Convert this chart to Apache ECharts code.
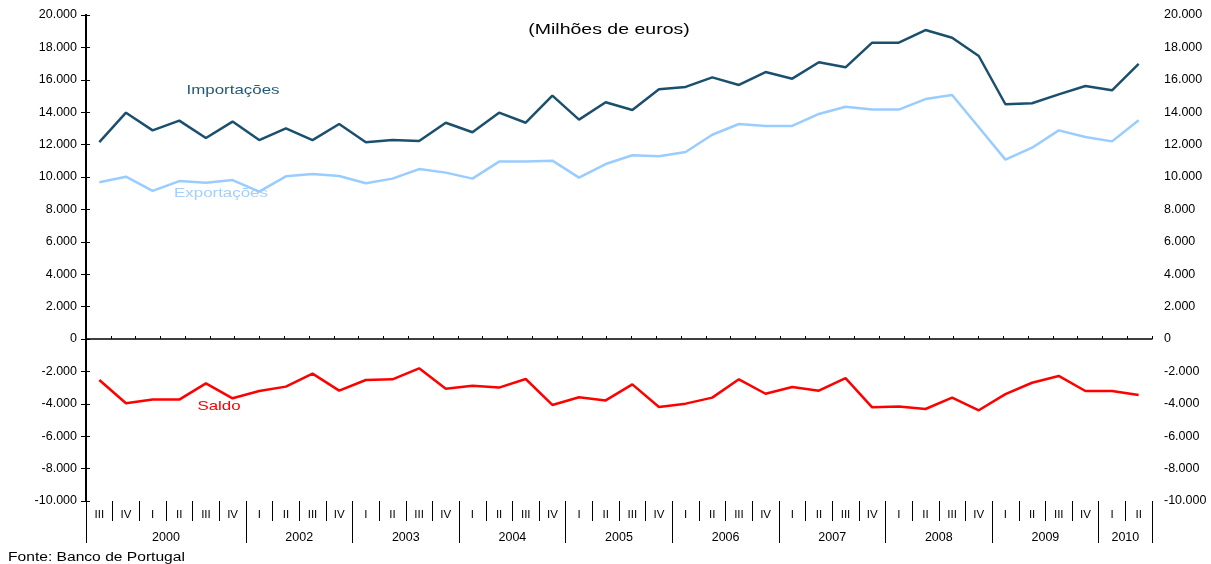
<!DOCTYPE html>
<html><head><meta charset="utf-8">
<script src="https://cdn.jsdelivr.net/npm/echarts@6/dist/echarts.min.js"></script>
<style>html,body{margin:0;padding:0;background:#fff}#c{width:1211px;height:564px}</style>
</head><body><div id="c"></div>
<script>
const quarters = ['III','IV','I','II','III','IV',
  'I','II','III','IV','I','II','III','IV','I','II','III','IV','I','II','III','IV',
  'I','II','III','IV','I','II','III','IV','I','II','III','IV','I','II','III','IV',
  'I','II'];
const years = ['2000','2002','2003','2004','2005','2006','2007','2008','2009','2010'];
const yearSpans = [6,4,4,4,4,4,4,4,4,2];
const importacoes = [12150,13970,12880,13480,12410,13420,12280,13000,12280,13270,12140,12280,12220,13350,12760,13970,13350,15020,13540,14610,14140,15410,15560,16150,15680,16480,16070,17080,16770,18290,18290,19070,18600,17470,14490,14550,15100,15620,15350,16980];
const exportacoes = [9670,10020,9140,9750,9650,9810,9100,10040,10190,10060,9610,9900,10490,10270,9900,10950,10950,11010,9960,10800,11340,11280,11540,12610,13270,13150,13150,13890,14340,14160,14160,14810,15060,13070,11070,11810,12880,12470,12200,13500];
const saldo = [-2530,-3970,-3740,-3740,-2740,-3660,-3210,-2940,-2140,-3190,-2530,-2490,-1810,-3070,-2880,-3000,-2470,-4070,-3600,-3790,-2800,-4200,-3990,-3620,-2490,-3380,-2960,-3190,-2410,-4220,-4160,-4320,-3620,-4400,-3400,-2700,-2280,-3210,-3210,-3460];
const yMin = -10000, yMax = 20000, yStep = 2000;

const FONT = 'Liberation Sans, Arial, sans-serif';
const bounds = [0]; const mids = [];
yearSpans.forEach(s => { const b = bounds[bounds.length-1]; mids.push(b + s/2); bounds.push(b + s); });
function fmt(v){ if (v === 0) return '0'; const a = Math.abs(v); const s = v<0?'-':''; const th = Math.floor(a/1000); const r = String(a%1000).padStart(3,'0'); return s + th + '.' + r; }

const chart = echarts.init(document.getElementById('c'), null, {renderer:'canvas'});
const yAxisBase = {
  type:'value', min:yMin, max:yMax, interval:yStep,
  axisLine:{show:true, lineStyle:{color:'#000', width:2}},
  axisTick:{show:true, length:5, lineStyle:{color:'#000'}},
  splitLine:{show:false},
  axisLabel:{formatter:fmt, color:'#000', fontSize:12.5, fontFamily:FONT}
};
chart.setOption({
  animation:false,
  backgroundColor:'#fff',
  grid:{left:86, right:59, top:15, bottom:63},
  xAxis:[
    {type:'category', data:quarters, position:'bottom', boundaryGap:true,
     axisLine:{show:false, onZero:false},
     axisTick:{show:true, interval:0, length:20, lineStyle:{color:'#000'}},
     axisLabel:{interval:0, margin:8, color:'#000', fontSize:11.5, fontFamily:FONT},
     splitLine:{show:false}},
    {type:'value', min:0, max:quarters.length, position:'bottom',
     axisLine:{show:false, onZero:false},
     axisTick:{show:true, customValues:bounds, length:42, lineStyle:{color:'#000'}},
     axisLabel:{customValues:mids, margin:30, color:'#000', fontSize:12.5, fontFamily:FONT,
       formatter:(v)=>{ const i = mids.indexOf(v); return i>=0 ? years[i] : ''; }},
     splitLine:{show:false}},
    {type:'value', min:0, max:43, interval:1, position:'bottom',
     axisLine:{show:true, onZero:true, onZeroAxisIndex:0, lineStyle:{color:'#000', width:1.5}},
     axisTick:{show:true, inside:true, length:3, lineStyle:{color:'#000'}},
     axisLabel:{show:false}, splitLine:{show:false}}
  ],
  yAxis:[
    Object.assign({}, yAxisBase, {position:'left', axisLabel:Object.assign({}, yAxisBase.axisLabel, {margin:9})}),
    Object.assign({}, yAxisBase, {position:'right', axisTick:{show:true, length:4, lineStyle:{color:'#000'}}, axisLabel:Object.assign({}, yAxisBase.axisLabel, {margin:12})})
  ],
  series:[
    {name:'Importações', type:'line', data:importacoes, xAxisIndex:0, yAxisIndex:0, showSymbol:false, lineStyle:{color:'#1b4f6e', width:2.5}, itemStyle:{color:'#1b4f6e'}},
    {name:'Exportações', type:'line', data:exportacoes, xAxisIndex:0, yAxisIndex:0, showSymbol:false, lineStyle:{color:'#99ccff', width:2.5}, itemStyle:{color:'#99ccff'}},
    {name:'Saldo', type:'line', data:saldo, xAxisIndex:0, yAxisIndex:0, showSymbol:false, lineStyle:{color:'#ff0000', width:2.5}, itemStyle:{color:'#ff0000'}}
  ],
  graphic:[
    {type:'text', x:609, y:30, scaleX:1.3, style:{text:'(Milhões de euros)', fill:'#000', font:'15px '+FONT, textAlign:'center', textVerticalAlign:'middle'}},
    {type:'text', x:233, y:90, scaleX:1.3, style:{text:'Importações', fill:'#1f5a78', font:'13px '+FONT, textAlign:'center', textVerticalAlign:'middle'}},
    {type:'text', x:221, y:193, scaleX:1.3, style:{text:'Exportações', fill:'#a3cfff', font:'13px '+FONT, textAlign:'center', textVerticalAlign:'middle'}},
    {type:'text', x:219, y:406, scaleX:1.3, style:{text:'Saldo', fill:'#ff0000', font:'13px '+FONT, textAlign:'center', textVerticalAlign:'middle'}},
    {type:'text', x:8, y:558, scaleX:1.3, style:{text:'Fonte: Banco de Portugal', fill:'#000', font:'12px '+FONT, textAlign:'left', textVerticalAlign:'middle'}}
  ]
});
</script></body></html>
